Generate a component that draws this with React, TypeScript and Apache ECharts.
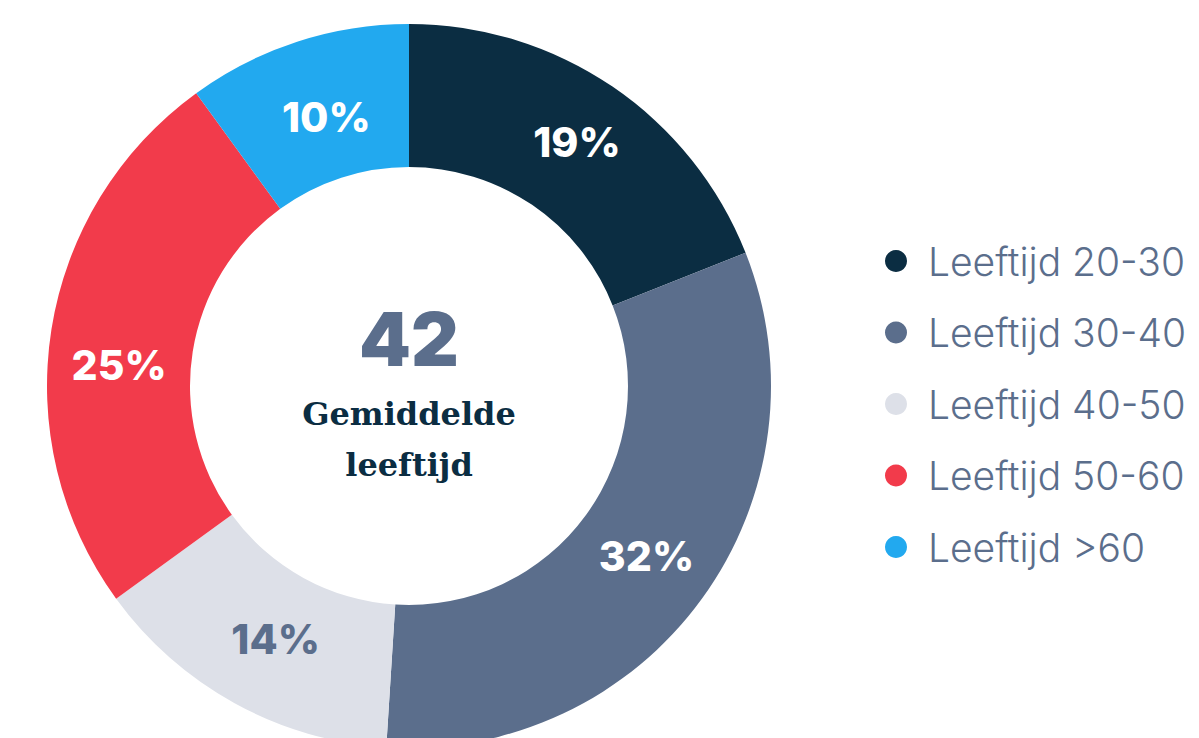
import React, { useEffect, useRef } from "react";
import * as echarts from "echarts";

const categories = ["Leeftijd 20-30", "Leeftijd 30-40", "Leeftijd 40-50", "Leeftijd 50-60", "Leeftijd >60"];
const values = [19, 32, 14, 25, 10];
const colors = ["#0b2d42", "#5b6e8c", "#dde0e8", "#f23b4b", "#22a9ef"];
const labelColors = ["#ffffff", "#ffffff", "#5b6e8c", "#ffffff", "#ffffff"];
const labelOffsets = [[3, -1], [0, -3], [8, -4], [0, 25], [8, 10]];
const centerValue = "42";
const centerLines = ["Gemiddelde", "leeftijd"];

export default function App() {
  const ref = useRef<HTMLDivElement>(null);
  useEffect(() => {
    if (!ref.current) return;
    const chart = echarts.init(ref.current, null, { renderer: "svg" });
    chart.setOption({
      animation: false,
      backgroundColor: "#ffffff",
      legend: {
        orient: "vertical",
        left: 880,
        top: 236,
        padding: 5,
        icon: "circle",
        itemWidth: 22,
        itemHeight: 22,
        itemGap: 31.5,
        selectedMode: false,
        data: categories,
        textStyle: {
          fontFamily: "Inter",
          fontWeight: 300,
          fontSize: 39,
          lineHeight: 40,
          color: "#5b6e8c",
          padding: [0, 0, 0, 16],
        },
      },
      graphic: [
        {
          type: "text",
          style: {
            x: 409,
            y: 339,
            text: centerValue,
            align: "center",
            verticalAlign: "middle",
            fontFamily: "Inter",
            fontWeight: 900,
            fontSize: 74,
            fill: "#5b6e8c",
          },
        },
        {
          type: "text",
          style: {
            x: 409,
            y: 414,
            text: centerLines[0],
            align: "center",
            verticalAlign: "middle",
            fontFamily: "DejaVu Serif",
            fontWeight: "bold",
            fontSize: 32,
            fill: "#0b2d42",
          },
        },
        {
          type: "text",
          style: {
            x: 409,
            y: 465,
            text: centerLines[1],
            align: "center",
            verticalAlign: "middle",
            fontFamily: "DejaVu Serif",
            fontWeight: "bold",
            fontSize: 32,
            fill: "#0b2d42",
          },
        },
      ],
      series: [
        {
          type: "pie",
          center: [409, 386],
          radius: [219, 362],
          startAngle: 90,
          clockwise: true,
          avoidLabelOverlap: false,
          label: {
            show: true,
            position: "inside",
            formatter: "{c}%",
            fontFamily: "Inter",
            fontWeight: 800,
            fontSize: 41,
          },
          labelLine: { show: false },
          emphasis: { disabled: true },
          itemStyle: { borderWidth: 0 },
          data: categories.map((name, i) => ({
            name,
            value: values[i],
            itemStyle: { color: colors[i] },
            label: { color: labelColors[i], offset: labelOffsets[i] },
          })),
        },
      ],
    });
    return () => chart.dispose();
  }, []);
  return (
    <div
      ref={ref}
      style={{ position: "absolute", left: 0, top: 0, width: 1199, height: 738 }}
    />
  );
}
